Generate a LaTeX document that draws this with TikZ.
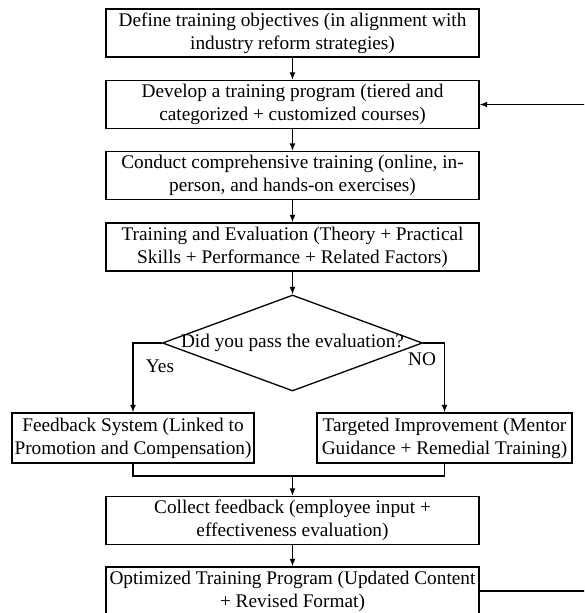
\documentclass[tikz,border=0pt]{standalone}
\usepackage{fontspec}
\setmainfont{Liberation Serif}
\usetikzlibrary{arrows.meta,shapes.geometric}
\begin{document}
\begin{tikzpicture}[x=1pt,y=-1pt]
		\tikzset{box/.style = {shape=rectangle,draw,line width=1.3pt,minimum width=373pt,minimum height=48pt,inner sep=2pt,align=center,font=\fontsize{19.3}{23}\selectfont}}
		\tikzset{decision/.style = {shape=diamond,draw,line width=1.3pt,minimum width=260pt,minimum height=96pt,inner sep=0pt}}
		\tikzset{edge/.style = {->,> = {Latex[length=7.5pt,width=6pt]},line width=1.3pt}}
		\tikzset{lbl/.style = {inner sep=0pt,font=\fontsize{19.3}{23}\selectfont}}
		\path[use as bounding box,clip] (0,0) rectangle (584,613);
		\node[box] (obj) at (292.5,33) {Define training objectives (in alignment with\\industry reform strategies)};
		\node[box] (dev) at (292.5,104.5) {Develop a training program (tiered and\\categorized + customized courses)};
		\node[box] (con) at (292.5,175.5) {Conduct comprehensive training (online, in-\\person, and hands-on exercises)};
		\node[box] (eva) at (292.5,247) {Training and Evaluation (Theory + Practical\\Skills + Performance + Related Factors)};
		\node[decision] (dec) at (292.5,343) {};
		\node[lbl] (q) at (dec) {Did you pass the evaluation?};
		\node[box,minimum width=242pt,minimum height=50pt] (fb) at (133,438) {Feedback System (Linked to\\Promotion and Compensation)};
		\node[box,minimum width=255pt,minimum height=50pt] (ti) at (444.5,438) {Targeted Improvement (Mentor\\Guidance + Remedial Training)};
		\node[box] (col) at (292.5,520.5) {Collect feedback (employee input +\\effectiveness evaluation)};
		\node[box] (opt) at (292.5,591) {Optimized Training Program (Updated Content\\+ Revised Format)};
		\node[lbl] (yes) at (160,366) {Yes};
		\node[lbl] (no) at (422,359) {NO};
		\coordinate (m) at (292.5,476);
		\draw[edge] (obj) -- (dev);
		\draw[edge] (dev) -- (con);
		\draw[edge] (con) -- (eva);
		\draw[edge] (eva) -- (dec.north);
		\draw[edge] (dec.west) -| (fb.north);
		\draw[edge] (dec.east) -| (ti.north);
		\draw[line width=1.3pt] (fb.south) |- (m) -| (ti.south);
		\draw[edge] (m) -- (col.north);
		\draw[edge] (col) -- (opt);
		\draw[edge] (opt.east) -- ++(130,0) |- (dev.east);
	\end{tikzpicture}
\end{document}
